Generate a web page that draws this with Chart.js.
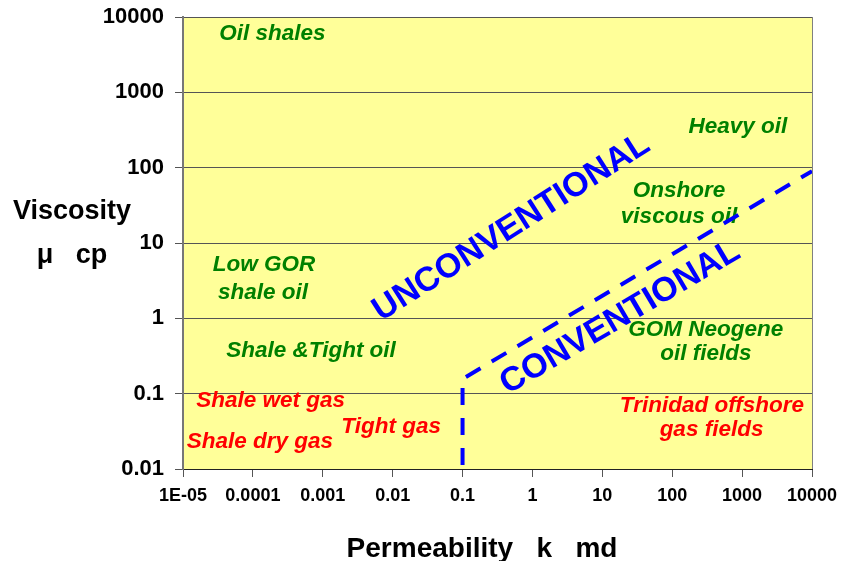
<!DOCTYPE html>
<html>
<head>
<meta charset="utf-8">
<script src="https://cdn.jsdelivr.net/npm/chart.js@4.4.0/dist/chart.umd.min.js"></script>
<style>
  html, body { margin: 0; padding: 0; background: #fff; }
  #wrap { width: 846px; height: 561px; }
</style>
</head>
<body>
<div id="wrap"><canvas id="chart" width="846" height="561"></canvas></div>
<script>
// axis ticks (decades only)
const xTicks = [1e-5, 1e-4, 1e-3, 0.01, 0.1, 1, 10, 100, 1000, 10000];
const xTickLabels = ['1E-05', '0.0001', '0.001', '0.01', '0.1', '1', '10', '100', '1000', '10000'];
const yTicks = [0.01, 0.1, 1, 10, 100, 1000, 10000];
const yTickLabels = ['0.01', '0.1', '1', '10', '100', '1000', '10000'];

// dashed boundary conventional / unconventional  (k md, mu cp)
const boundaryK = [0.1, 0.1, 10000];
const boundaryMu = [0.01, 0.157, 90];

// region names, anchored at (k, mu)
const regionText = ['Oil shales', 'Heavy oil', 'Onshore', 'viscous oil', 'Low GOR', 'shale oil',
    'Shale &Tight oil', 'GOM Neogene', 'oil fields',
    'Shale wet gas', 'Shale dry gas', 'Tight gas', 'Trinidad offshore', 'gas fields'];
const regionK = [1.9e-4, 870, 125, 125, 1.44e-4, 1.4e-4, 6.8e-4, 303, 303, 1.8e-4, 1.26e-4, 0.0095, 370, 365];
const regionMu = [6000, 350, 49, 22.2, 5.1, 2.17, 0.37, 0.70, 0.337, 0.08, 0.0228, 0.0361, 0.0687, 0.033];
const regionFluid = ['oil', 'oil', 'oil', 'oil', 'oil', 'oil', 'oil', 'oil', 'oil', 'gas', 'gas', 'gas', 'gas', 'gas'];

// big diagonal words
const zoneText = ['UNCONVENTIONAL', 'CONVENTIONAL'];
const zoneK = [0.5, 18];
const zoneMu = [16, 1.02];
const zoneAngle = [-32.5, -30.5];

const fluidColor = { oil: '#008000', gas: '#FF0000' };
const FONT = '"Liberation Sans", Arial, sans-serif';

const chartBackground = {
    id: 'chartBackground',
    beforeDraw(chart) {
        const { ctx, chartArea } = chart;
        ctx.save();
        ctx.fillStyle = '#fff';
        ctx.fillRect(0, 0, chart.width, chart.height);
        ctx.fillStyle = '#FFFF99';
        ctx.fillRect(chartArea.left, chartArea.top, chartArea.right - chartArea.left, chartArea.bottom - chartArea.top);
        ctx.restore();
    }
};

const regionLabels = {
    id: 'regionLabels',
    beforeDatasetsDraw(chart) {
        const { ctx, chartArea } = chart;
        const xs = chart.scales.x, ys = chart.scales.y;
        ctx.save();
        // right border of the plot area
        ctx.strokeStyle = '#808080';
        ctx.lineWidth = 1;
        ctx.beginPath();
        ctx.moveTo(chartArea.right + 0.5, chartArea.top);
        ctx.lineTo(chartArea.right + 0.5, chartArea.bottom);
        ctx.stroke();

        ctx.textAlign = 'center';
        ctx.textBaseline = 'middle';
        ctx.font = 'italic bold 22.5px ' + FONT;
        regionText.forEach((t, i) => {
            ctx.fillStyle = fluidColor[regionFluid[i]];
            ctx.fillText(t, xs.getPixelForValue(regionK[i]), ys.getPixelForValue(regionMu[i]));
        });

        ctx.font = 'bold 34px ' + FONT;
        ctx.fillStyle = '#0000FF';
        zoneText.forEach((t, i) => {
            ctx.save();
            ctx.translate(xs.getPixelForValue(zoneK[i]), ys.getPixelForValue(zoneMu[i]));
            ctx.rotate(zoneAngle[i] * Math.PI / 180);
            ctx.fillText(t, 0, 0);
            ctx.restore();
        });
        ctx.restore();
    },
    afterDraw(chart) {
        const ctx = chart.ctx;
        ctx.save();
        ctx.fillStyle = '#000';
        ctx.textAlign = 'center';
        ctx.textBaseline = 'middle';
        ctx.font = 'bold 27px ' + FONT;
        ctx.fillText('Viscosity', 72, 212);
        ctx.fillText('\u03BC   cp', 72, 256);
        ctx.font = 'bold 28px ' + FONT;
        ctx.fillText('Permeability   k   md', 482, 549);
        ctx.restore();
    }
};

new Chart(document.getElementById('chart'), {
    type: 'line',
    data: {
        datasets: [{
            data: boundaryK.map((k, i) => ({ x: k, y: boundaryMu[i] })),
            borderColor: '#0000FF',
            borderWidth: 4,
            borderDash: [17, 13],
            borderDashOffset: 26,
            pointRadius: 0,
            fill: false,
            tension: 0
        }]
    },
    options: {
        responsive: false,
        animation: false,
        layout: { padding: { top: 17, right: 34, left: 0, bottom: 0 } },
        plugins: { legend: { display: false }, tooltip: { enabled: false } },
        scales: {
            x: {
                type: 'logarithmic',
                min: 1e-5,
                max: 10000,
                afterBuildTicks: s => { s.ticks = xTicks.map(v => ({ value: v })); },
                afterFit: s => { s.height = 92; s.paddingLeft = 0; s.paddingRight = 0; },
                grid: { drawOnChartArea: false, drawTicks: true, tickLength: 8, color: '#555' },
                border: { color: '#222', width: 1 },
                ticks: {
                    autoSkip: false,
                    maxRotation: 0,
                    padding: 8,
                    color: '#000',
                    font: { family: FONT, size: 18, weight: 'bold' },
                    callback: (v, i) => xTickLabels[i]
                }
            },
            y: {
                type: 'logarithmic',
                min: 0.01,
                max: 10000,
                afterBuildTicks: s => { s.ticks = yTicks.map(v => ({ value: v })); },
                afterFit: s => { s.width = 183; s.paddingTop = 0; s.paddingBottom = 0; },
                grid: { drawOnChartArea: true, drawTicks: true, tickLength: 8, color: '#555' },
                border: { color: '#777', width: 2 },
                ticks: {
                    padding: 11,
                    color: '#000',
                    font: { family: FONT, size: 22, weight: 'bold' },
                    callback: (v, i) => yTickLabels[i]
                }
            }
        }
    },
    plugins: [chartBackground, regionLabels]
});
</script>
</body>
</html>
